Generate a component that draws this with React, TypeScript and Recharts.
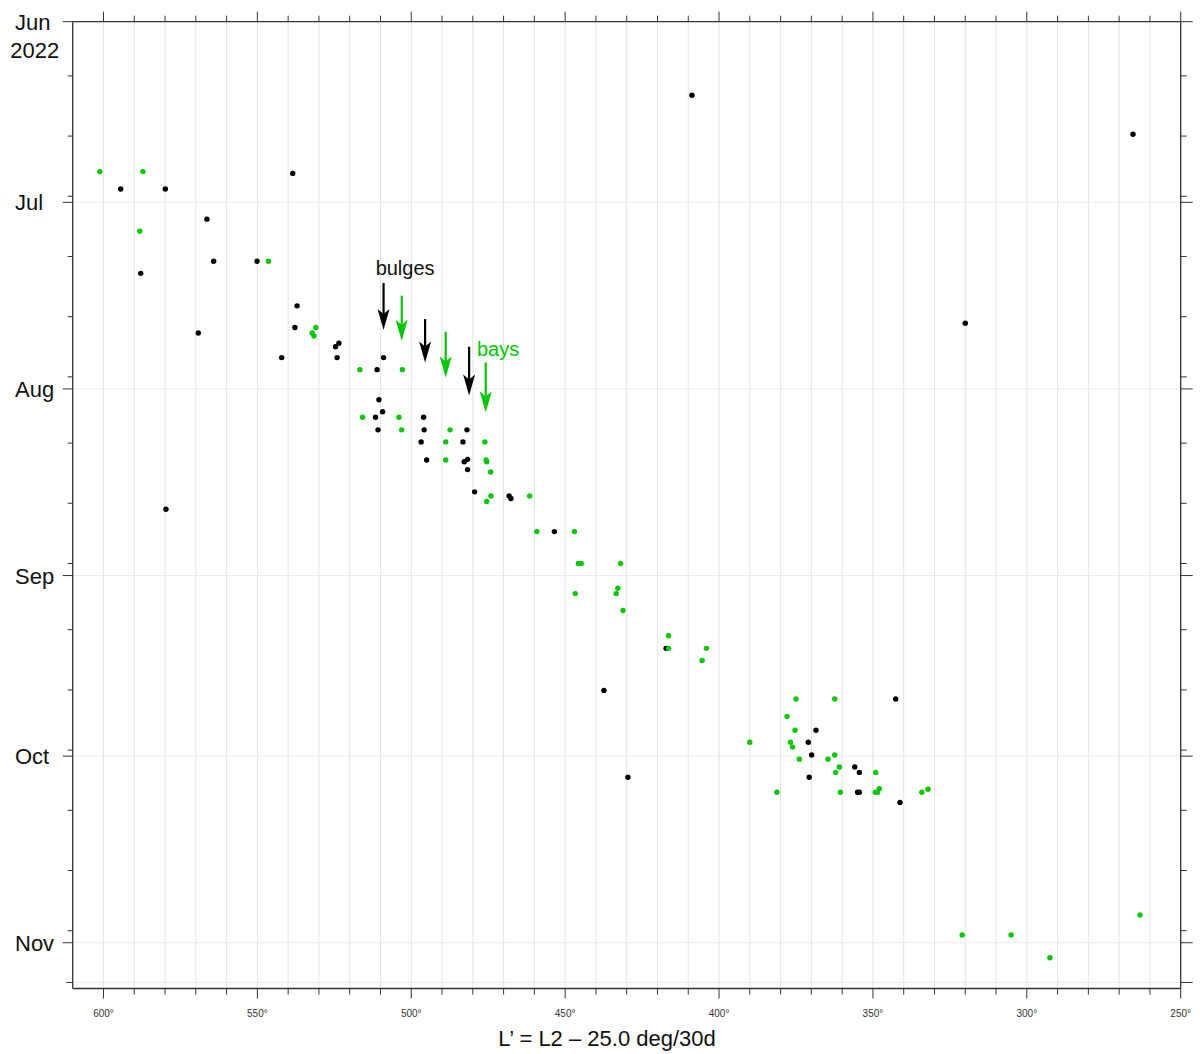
import React from 'react'
import { ScatterChart, Scatter, XAxis, YAxis, ReferenceLine, ReferenceDot } from 'recharts'

// spots: [L' (deg), day of year 2022]
const blackSpots: [number, number][] = [
  [408.8, 164.2], [265.5, 170.7], [538.5, 177.2], [594.4, 179.8], [579.9, 179.8],
  [566.4, 184.8], [564.2, 191.8], [550.1, 191.8], [587.9, 193.8], [537.1, 199.2],
  [320.0, 202.1], [537.8, 202.8], [569.2, 203.7], [524.6, 206.0], [523.5, 205.4],
  [509.0, 207.8], [524.1, 207.8], [542.1, 207.8], [511.1, 209.8], [510.5, 214.8],
  [509.3, 216.8], [511.6, 217.7], [496.0, 217.7], [510.8, 219.8], [495.8, 219.8],
  [481.9, 219.8], [496.8, 221.8], [483.2, 221.8], [495.0, 224.8], [481.7, 224.7],
  [482.8, 225.1], [481.7, 226.4], [479.4, 230.1], [468.2, 230.8], [467.6, 231.2],
  [579.7, 233.0], [453.5, 236.7], [417.2, 256.1], [437.4, 263.1], [342.6, 264.5],
  [368.5, 269.7], [371.0, 271.7], [369.9, 273.8], [355.9, 275.8], [354.4, 276.7],
  [370.7, 277.5], [429.6, 277.5], [355.0, 280.0], [354.4, 280.0], [341.2, 281.7],
]

const greenSpots: [number, number][] = [
  [601.2, 176.9], [587.2, 176.9], [588.2, 186.8], [546.4, 191.8], [531.0, 202.8],
  [532.2, 203.7], [531.6, 204.2], [516.7, 209.8], [502.9, 209.8], [515.8, 217.7],
  [504.0, 217.7], [503.1, 219.8], [487.4, 219.8], [488.8, 221.8], [476.1, 221.8],
  [488.8, 224.8], [475.7, 224.8], [475.5, 225.1], [474.2, 226.8], [474.1, 230.8],
  [475.5, 231.7], [461.5, 230.8], [459.2, 236.7], [447.0, 236.7], [445.7, 242.0],
  [444.8, 242.0], [432.0, 242.0], [432.9, 246.1], [433.4, 247.0], [446.7, 247.0],
  [431.2, 249.8], [416.4, 254.0], [416.4, 256.1], [404.1, 256.1], [405.5, 258.1],
  [375.0, 264.5], [362.4, 264.5], [377.9, 267.4], [375.3, 269.7], [390.0, 271.7],
  [376.8, 271.7], [376.1, 272.5], [362.4, 273.8], [373.9, 274.5], [364.6, 274.5],
  [360.9, 275.8], [362.1, 276.7], [349.1, 276.7], [381.2, 280.0], [360.6, 280.0],
  [349.2, 280.0], [347.9, 279.4], [348.5, 280.0], [334.1, 280.0], [332.1, 279.5],
  [263.2, 300.4], [321.0, 303.7], [305.1, 303.7], [292.5, 307.5],
]

// arrows: [L', start day, tip day]
const bulgeArrows = [[509.0, 195.4, 203.2], [495.5, 201.4, 208.6], [481.2, 206.0, 214.1]]
const bayArrows = [[503.1, 197.5, 205.0], [488.8, 203.5, 211.1], [475.8, 208.6, 216.9]]

const lTicks = [600, 590, 580, 570, 560, 550, 540, 530, 520, 510, 500, 490, 480, 470, 460, 450,
  440, 430, 420, 410, 400, 390, 380, 370, 360, 350, 340, 330, 320, 310, 300, 290, 280, 270, 260, 250]
const monthDays = [152, 182, 213, 244, 274, 305]
const monthNames = ['Jun', 'Jul', 'Aug', 'Sep', 'Oct', 'Nov']
const minorDays = [161, 171, 181, 191, 201, 211, 222, 232, 242, 253, 263, 273, 283, 293, 303]
const endDay = 311.6
const dayTicks = [...monthDays, ...minorDays, endDay]

const GREEN = '#00c800'
const AXIS = '#333'

const blackData = blackSpots.map(([l, day]) => ({ l, day }))
const greenData = greenSpots.map(([l, day]) => ({ l, day }))

const BottomTick = ({ x, y, payload }: any) => {
  const major = payload.value % 50 === 0
  return (
    <g>
      <line x1={x} x2={x} y1={y} y2={y + (major ? 10 : 6)} stroke={AXIS} />
      {major && (
        <text x={x} y={y + 28} textAnchor="middle" fontSize={10} fill="#333">{payload.value}°</text>
      )}
    </g>
  )
}

const TopTick = ({ x, y, payload }: any) => {
  const major = payload.value % 50 === 0
  return <line x1={x} x2={x} y1={y} y2={y - (major ? 10 : 6)} stroke={AXIS} />
}

const LeftTick = ({ x, y, payload }: any) => {
  const i = monthDays.indexOf(payload.value)
  const len = i >= 0 ? 10 : payload.value === endDay ? 6.5 : 5
  return (
    <g>
      <line x1={x - len} x2={x} y1={y} y2={y} stroke={AXIS} />
      {i >= 0 && (
        <text x={x - 57.7} y={y + 8} fontSize={22} fill="#111">{monthNames[i]}</text>
      )}
      {i === 0 && (
        <text x={x - 62.5} y={y + 36.5} fontSize={22} fill="#111">2022</text>
      )}
    </g>
  )
}

const RightTick = ({ x, y, payload }: any) => {
  const major = monthDays.includes(payload.value) || payload.value === endDay
  return <line x1={x} x2={x + (major ? 12 : 6)} y1={y} y2={y} stroke={AXIS} />
}

const arrowShape = (color: string) => (p: any) => {
  const { x1, y1, x2, y2 } = p
  const head = 21
  const hw = 6
  return (
    <g>
      <line x1={x1} y1={y1} x2={x2} y2={y2 - head + 5} stroke={color} strokeWidth={2.2} />
      <path
        d={`M${x2 - hw},${y2 - head} L${x2},${y2} L${x2 + hw},${y2 - head} L${x2},${y2 - head + 5} Z`}
        fill={color}
      />
    </g>
  )
}

const dot = (color: string) => (p: any) => <circle cx={p.cx} cy={p.cy} r={2.7} fill={color} />

export default function App() {
  return (
    <div style={{ position: 'absolute', left: 0, top: 0, width: 1200, height: 1054, background: '#fff', fontFamily: '"Liberation Sans", Arial, sans-serif' }}>
      <ScatterChart width={1200} height={1054} margin={{ top: 1.7, right: 4.3, bottom: 35.5, left: 12.7 }}>
        <XAxis xAxisId="b" type="number" dataKey="l" domain={[250, 610]} reversed allowDataOverflow
          ticks={lTicks} interval={0} height={30} tickSize={0} tickMargin={0} tickLine={false}
          tick={<BottomTick />} axisLine={{ stroke: AXIS, strokeWidth: 1.3 }} />
        <XAxis xAxisId="t" orientation="top" type="number" dataKey="l" domain={[250, 610]} reversed allowDataOverflow
          ticks={lTicks} interval={0} height={20} tickSize={0} tickMargin={0} tickLine={false}
          tick={<TopTick />} axisLine={{ stroke: AXIS, strokeWidth: 1.3 }} />
        <YAxis yAxisId="l" type="number" dataKey="day" domain={[152, 312.6]} reversed allowDataOverflow
          ticks={dayTicks} interval={0} width={60} tickSize={0} tickMargin={0} tickLine={false}
          tick={<LeftTick />} axisLine={{ stroke: AXIS, strokeWidth: 1.3 }} />
        <YAxis yAxisId="r" orientation="right" type="number" dataKey="day" domain={[152, 312.6]} reversed allowDataOverflow
          ticks={dayTicks} interval={0} width={15} tickSize={0} tickMargin={0} tickLine={false}
          tick={<RightTick />} axisLine={{ stroke: AXIS, strokeWidth: 1.3 }} />

        {lTicks.filter(v => v > 250).map(v => (
          <ReferenceLine key={'gx' + v} x={v} xAxisId="b" yAxisId="l" stroke="#e4e4e4" strokeWidth={1} />
        ))}
        {[...monthDays.slice(1), endDay].map(d => (
          <ReferenceLine key={'gy' + d} y={d} xAxisId="b" yAxisId="l" stroke="#ebebeb" strokeWidth={1} />
        ))}

        <Scatter data={blackData} xAxisId="b" yAxisId="l" fill="#000" shape={dot('#000')} isAnimationActive={false} />
        <Scatter data={greenData} xAxisId="b" yAxisId="l" fill={GREEN} shape={dot(GREEN)} isAnimationActive={false} />

        {bulgeArrows.map(([l, d0, d1], i) => (
          <ReferenceLine key={'ba' + i} xAxisId="b" yAxisId="l" segment={[{ x: l, y: d0 }, { x: l, y: d1 }]}
            shape={arrowShape('#000')} />
        ))}
        {bayArrows.map(([l, d0, d1], i) => (
          <ReferenceLine key={'ga' + i} xAxisId="b" yAxisId="l" segment={[{ x: l, y: d0 }, { x: l, y: d1 }]}
            shape={arrowShape(GREEN)} />
        ))}
        <ReferenceDot xAxisId="b" yAxisId="l" x={502} y={192.9} r={0} stroke="none"
          label={{ value: 'bulges', position: 'center', fill: '#111', fontSize: 20 }} />
        <ReferenceDot xAxisId="b" yAxisId="l" x={471.8} y={206.4} r={0} stroke="none"
          label={{ value: 'bays', position: 'center', fill: GREEN, fontSize: 20 }} />

        <text x={607} y={1046} textAnchor="middle" fontSize={22} fill="#111">L’ = L2 – 25.0 deg/30d</text>
      </ScatterChart>
    </div>
  )
}
